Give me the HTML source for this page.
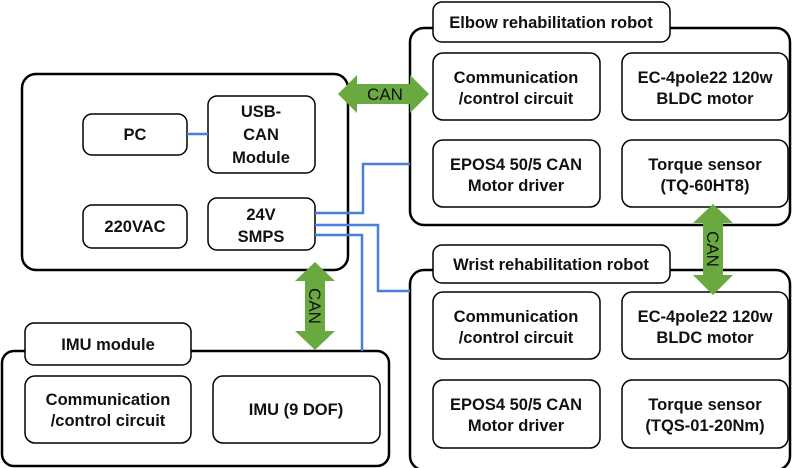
<!DOCTYPE html>
<html><head><meta charset="utf-8"><style>
html,body{margin:0;padding:0;background:#fff;width:800px;height:468px;overflow:hidden}
text{font-family:"Liberation Sans",sans-serif;font-weight:bold;font-size:16.5px;fill:#111;text-anchor:middle}
</style></head><body>
<svg width="800" height="468" viewBox="0 0 800 468" xmlns="http://www.w3.org/2000/svg">
<g fill="#fff" stroke="#000">
<rect x="22" y="74" width="326" height="196" rx="14" stroke-width="2.5"/>
<rect x="83" y="114" width="104" height="41" rx="9" stroke-width="1.5"/>
<rect x="208" y="96" width="107" height="77" rx="9" stroke-width="1.5"/>
<rect x="83" y="205" width="104" height="43" rx="9" stroke-width="1.5"/>
<rect x="208" y="198" width="107" height="52" rx="9" stroke-width="1.5"/>
<rect x="410" y="28" width="380" height="197" rx="14" stroke-width="2.5"/>
<rect x="433" y="2" width="237" height="40" rx="9" stroke-width="1.5"/>
<rect x="433" y="53" width="167" height="67" rx="10" stroke-width="1.5"/>
<rect x="622" y="53" width="166" height="67" rx="10" stroke-width="1.5"/>
<rect x="433" y="140" width="167" height="67" rx="10" stroke-width="1.5"/>
<rect x="622" y="140" width="166" height="67" rx="10" stroke-width="1.5"/>
<rect x="410" y="270" width="380" height="200" rx="14" stroke-width="2.5"/>
<rect x="433" y="245" width="237" height="38" rx="9" stroke-width="1.5"/>
<rect x="433" y="292" width="167" height="67" rx="10" stroke-width="1.5"/>
<rect x="622" y="292" width="166" height="67" rx="10" stroke-width="1.5"/>
<rect x="433" y="380" width="167" height="68" rx="10" stroke-width="1.5"/>
<rect x="622" y="380" width="166" height="68" rx="10" stroke-width="1.5"/>
<rect x="2" y="351" width="387" height="115" rx="12" stroke-width="2.5"/>
<rect x="25" y="323" width="166" height="42" rx="9" stroke-width="1.5"/>
<rect x="25" y="376" width="166" height="67" rx="10" stroke-width="1.5"/>
<rect x="213" y="376" width="167" height="67" rx="10" stroke-width="1.5"/>
</g>
<g fill="none" stroke="#4a7fd9" stroke-width="2.5">
<line x1="187" y1="134" x2="208" y2="134"/>
<polyline points="315,213 363,213 363,164 410,164"/>
<polyline points="315,225 378,225 378,291 410,291"/>
<polyline points="315,235 362,235 362,351"/>
</g>
<g fill="#6aa940">
<polygon points="338,94 357,75 357,84 410,84 410,75 429,94 410,113 410,104 357,104 357,113"/>
<polygon points="315,262 335,281 325,281 325,331 335,331 315,350 295,331 305,331 305,281 295,281"/>
<polygon points="713,204 733,223 723,223 723,275 733,275 713,295 693,275 703,275 703,223 693,223"/>
</g>
<text x="385" y="100" style="font-weight:normal;font-size:17px">CAN</text>
<text transform="translate(309,306) rotate(90)" style="font-weight:normal;font-size:17px">CAN</text>
<text transform="translate(707,249) rotate(90)" style="font-weight:normal;font-size:17px">CAN</text>
<text x="135" y="140">PC</text>
<text x="261" y="117">USB-</text>
<text x="261" y="140">CAN</text>
<text x="261" y="163">Module</text>
<text x="135" y="232">220VAC</text>
<text x="261" y="220">24V</text>
<text x="261" y="242">SMPS</text>
<text x="551" y="28">Elbow rehabilitation robot</text>
<text x="516" y="83">Communication</text>
<text x="516" y="104">/control circuit</text>
<text x="705" y="83">EC-4pole22 120w</text>
<text x="705" y="104">BLDC motor</text>
<text x="516" y="170">EPOS4 50/5 CAN</text>
<text x="516" y="191">Motor driver</text>
<text x="705" y="170">Torque sensor</text>
<text x="705" y="191">(TQ-60HT8)</text>
<text x="551" y="270">Wrist rehabilitation robot</text>
<text x="516" y="322">Communication</text>
<text x="516" y="343">/control circuit</text>
<text x="705" y="322">EC-4pole22 120w</text>
<text x="705" y="343">BLDC motor</text>
<text x="516" y="410">EPOS4 50/5 CAN</text>
<text x="516" y="431">Motor driver</text>
<text x="705" y="410">Torque sensor</text>
<text x="705" y="431">(TQS-01-20Nm)</text>
<text x="108" y="350">IMU module</text>
<text x="108" y="405">Communication</text>
<text x="108" y="426">/control circuit</text>
<text x="296" y="415">IMU (9 DOF)</text>
</svg>
</body></html>
